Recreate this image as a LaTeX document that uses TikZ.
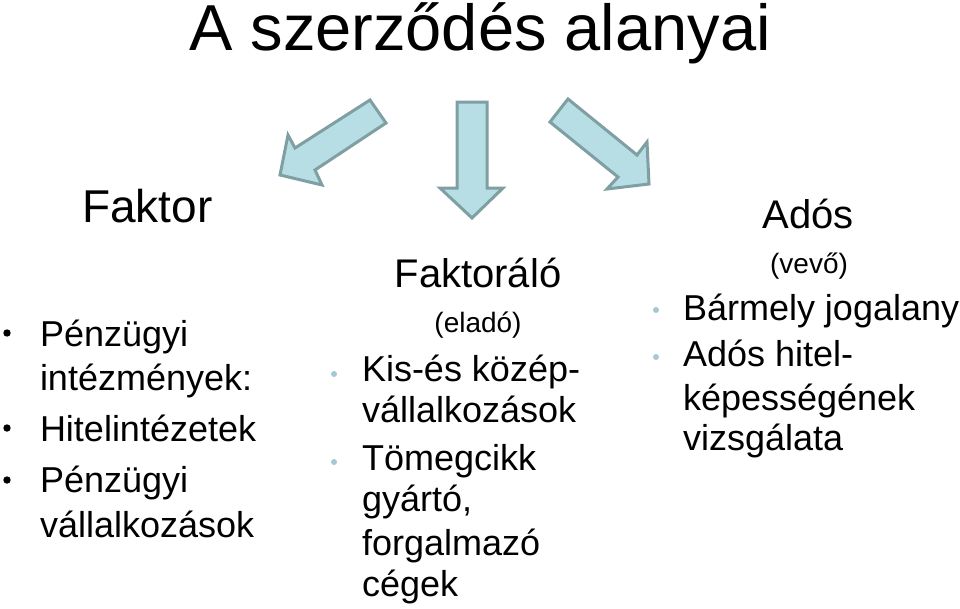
\documentclass[tikz,border=0pt]{standalone}
\usepackage{fontspec}
\setmainfont{Liberation Sans}
\definecolor{arrowfill}{HTML}{B7DEE5}
\definecolor{arrowline}{HTML}{7F9FA2}
\definecolor{bulletblue}{HTML}{A3CAD3}
\begin{document}
\begin{tikzpicture}[x=1pt,y=-1pt,
  bigarrow/.style={fill=arrowfill,draw=arrowline,line width=3pt,line join=miter},
  txt/.style={inner sep=0pt,outer sep=0pt,anchor=base west,font=\fontsize{36}{43}\selectfont},
  head/.style={inner sep=0pt,anchor=base,font=\fontsize{40}{48}\selectfont},
  sub/.style={inner sep=0pt,anchor=base,font=\fontsize{28}{34}\selectfont},
  blackdot/.style={fill=black,draw=none},
  bluedot/.style={fill=bulletblue,draw=none}]
\useasboundingbox (0,0) rectangle (960,608);
\fill[white] (0,0) rectangle (960,608);
% title
\node[inner sep=0pt,anchor=base,font=\fontsize{65}{78}\selectfont] (title) at (480,50) {A szerződés alanyai};
% arrows
\draw[bigarrow] (370,100) -- (386,123) -- (315,170) -- (322,185) -- (280,175) -- (288,135) -- (295,148) -- cycle;
\draw[bigarrow] (457,102) -- (487,102) -- (487,188) -- (503,188) -- (472,218) -- (440,188) -- (457,188) -- cycle;
\draw[bigarrow] (568,99) -- (637,155) -- (647,142) -- (649,184) -- (607,189) -- (618,177) -- (550,122) -- cycle;
% left column
\node[inner sep=0pt,anchor=base west,font=\fontsize{46}{55}\selectfont] (faktor) at (82,222) {Faktor};
\fill[blackdot] (7,333) circle (3.7);
\node[txt] (l1) at (40,346) {Pénzügyi};
\node[txt] (l2) at (40,390) {intézmények:};
\fill[blackdot] (7,428) circle (3.7);
\node[txt] (l3) at (40,441) {Hitelintézetek};
\fill[blackdot] (7,480) circle (3.7);
\node[txt] (l4) at (40,492) {Pénzügyi};
\node[txt] (l5) at (40,537) {vállalkozások};
% middle column
\node[head] (faktoralo) at (478,287) {Faktoráló};
\node[sub] (elado) at (478,332) {(eladó)};
\fill[bluedot] (334,374) circle (3);
\node[txt] (m1) at (362,381) {Kis-és közép-};
\node[txt] (m2) at (362,422) {vállalkozások};
\fill[bluedot] (334,462) circle (3);
\node[txt] (m3) at (362,470) {Tömegcikk};
\node[txt] (m4) at (362,511) {gyártó,};
\node[txt] (m5) at (362,555) {forgalmazó};
\node[txt] (m6) at (362,596) {cégek};
% right column
\node[head] (ados) at (808,228) {Adós};
\node[sub] (vevo) at (809,273) {(vevő)};
\fill[bluedot] (656,310) circle (3);
\node[txt] (r1) at (683,320) {Bármely jogalany};
\fill[bluedot] (656,357) circle (3);
\node[txt] (r2) at (683,366) {Adós hitel-};
\node[txt] (r3) at (683,410) {képességének};
\node[txt] (r4) at (683,450) {vizsgálata};
\end{tikzpicture}
\end{document}
